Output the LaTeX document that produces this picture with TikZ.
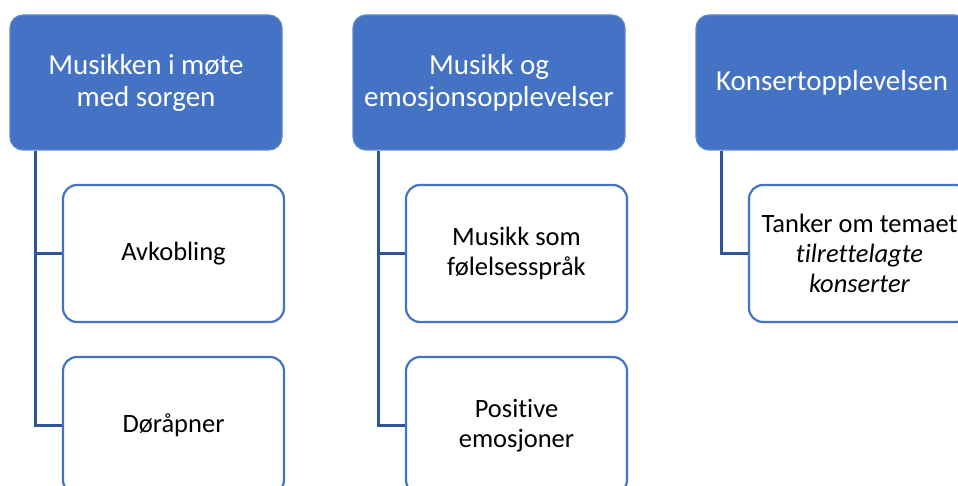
\documentclass[tikz,border=0pt]{standalone}
\usepackage{fontspec}
\setmainfont[Ligatures=NoCommon]{Carlito}
\definecolor{hdr}{HTML}{4472C4}
\definecolor{conn}{HTML}{2F5597}
\tikzset{
  header/.style={draw=hdr!85!white, fill=hdr, line width=1.2pt, rounded corners=13pt,
    minimum width=272pt, minimum height=135pt, inner sep=0pt, text=white, align=center,
    font=\fontsize{29}{32}\selectfont},
  child/.style={draw=hdr, fill=white, line width=2.2pt, rounded corners=14pt,
    minimum width=221pt, minimum height=137pt, inner sep=0pt, align=center,
    font=\fontsize{26.5}{30}\selectfont},
  connline/.style={draw=conn, line width=2.2pt}
}
\begin{document}
\begin{tikzpicture}[x=1pt,y=-1pt]
\useasboundingbox (0,0) rectangle (958,486);
\clip (0,0) rectangle (958,486);
% column 1
\node[header] (h1) at (146,82.5) {Musikken i møte\\med sorgen};
\node[child] (c11) at (173.5,253.5) {Avkobling};
\node[child] (c12) at (173.5,425.5) {Døråpner};
\draw[connline] ([xshift=26pt]h1.south west) |- (c11.west);
\draw[connline] ([xshift=26pt]h1.south west) |- (c12.west);
% column 2
\node[header] (h2) at (489,82.5) {Musikk og\\emosjonsopplevelser};
\node[child] (c21) at (516.5,253.5) {Musikk som\\følelsesspråk};
\node[child] (c22) at (516.5,425.5) {Positive\\emosjoner};
\draw[connline] ([xshift=26pt]h2.south west) |- (c21.west);
\draw[connline] ([xshift=26pt]h2.south west) |- (c22.west);
% column 3
\node[header] (h3) at (832,82.5) {Konsertopplevelsen};
\node[child] (c31) at (859.5,253.5) {Tanker om temaet\\\textit{tilrettelagte}\\\textit{konserter}};
\draw[connline] ([xshift=26pt]h3.south west) |- (c31.west);
\end{tikzpicture}
\end{document}
